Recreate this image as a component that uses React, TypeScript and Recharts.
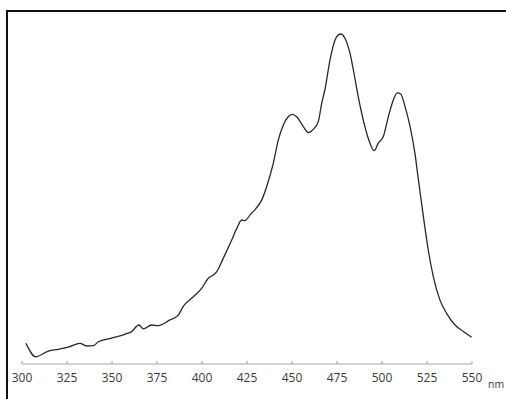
import { LineChart, Line, XAxis, YAxis } from 'recharts';

// emission spectrum, intensity in arbitrary units
const wavelengths = [
  302.2, 307.6, 314.6, 320.2, 325.7, 332.2, 335.9, 339.6, 342.4, 349.8,
  357.2, 360.9, 365, 367.4, 372, 375.7, 382.2, 386.8, 389.6, 395.2,
  399.8, 403.5, 406.3, 408.2, 411.8, 416.5, 419.3, 422.1, 423.9, 426.7,
  430, 433.2, 435.9, 439.6, 442.4, 445.2, 447.9, 450.2, 452.6, 456.3,
  459.1, 461.8, 464.6, 466.5, 468.3, 471.1, 473.9, 475.7, 477.2, 479.4,
  482.2, 484.1, 486.8, 489.6, 492.5, 495.7, 497.9, 500.7, 503.5, 506.3,
  508.5, 510.4, 512.8, 515.6, 518.3, 520.2, 523, 525.7, 528.5, 532.2,
  535.9, 540.6, 545.2, 549.8,
];

const intensity = [
  6.9, 2.4, 4.3, 4.9, 5.6, 6.9, 6.0, 6.1, 7.4, 8.6,
  9.9, 10.8, 13, 11.7, 13, 12.8, 14.7, 16.3, 19.2, 22.4,
  25.2, 28.6, 29.7, 30.8, 35.2, 41.3, 45.2, 48, 47.8, 49.7,
  51.9, 54.7, 59.1, 66.9, 74.7, 79.7, 82.4, 83.2, 82.4, 79.1,
  77.1, 78.2, 80.8, 86.9, 91.5, 101.3, 108, 109.7, 110, 108.6,
  103.6, 98, 89.1, 81.3, 75, 71.1, 73.6, 75.8, 82.4, 88,
  90.4, 90, 85.8, 79.1, 70.2, 61.5, 49.1, 38, 29.1, 21.3,
  16.9, 13, 10.8, 8.9,
];

const xTicks = [300, 325, 350, 375, 400, 425, 450, 475, 500, 525, 550];

const data = wavelengths.map((nm, i) => ({ nm, value: intensity[i] }));

const FONT = '"Open Sans", "Noto Sans", sans-serif';

function Tick(props: any) {
  const { x, y, payload } = props;
  return (
    <g>
      <line x1={x} y1={y - 3} x2={x} y2={y} stroke="#9a9a9a" strokeWidth={1} />
      <text
        x={x}
        y={y + 18}
        textAnchor="middle"
        fontFamily={FONT}
        fontSize={12}
        fill="#3a3a3a"
      >
        {payload.value}
      </text>
    </g>
  );
}

export default function App() {
  return (
    <div
      style={{
        position: 'fixed',
        left: 0,
        top: 0,
        width: 506,
        height: 399,
        background: '#fff',
        overflow: 'hidden',
      }}
    >
      <div
        style={{
          position: 'absolute',
          left: 6,
          top: 10,
          width: 520,
          height: 420,
          borderTop: '2px solid #111',
          borderLeft: '2px solid #111',
        }}
      />
      <div style={{ position: 'absolute', left: 0, top: 0 }}>
        <LineChart
          width={506}
          height={399}
          data={data}
          margin={{ top: 4, right: 34, bottom: 5, left: 22 }}
        >
          <XAxis
            dataKey="nm"
            type="number"
            domain={[300, 550]}
            ticks={xTicks}
            height={30}
            tickSize={0}
            tickMargin={0}
            axisLine={{ stroke: '#a8a8a8', strokeWidth: 1 }}
            tickLine={false}
            tick={<Tick />}
            interval={0}
          />
          <YAxis hide domain={[0, 120]} />
          <Line
            type="monotone"
            dataKey="value"
            stroke="#262638"
            strokeWidth={1.3}
            dot={false}
            isAnimationActive={false}
          />
        </LineChart>
      </div>
      <span
        style={{
          position: 'absolute',
          left: 488,
          top: 377,
          fontFamily: FONT,
          fontSize: 10.5,
          color: '#3a3a3a',
        }}
      >
        nm
      </span>
    </div>
  );
}
